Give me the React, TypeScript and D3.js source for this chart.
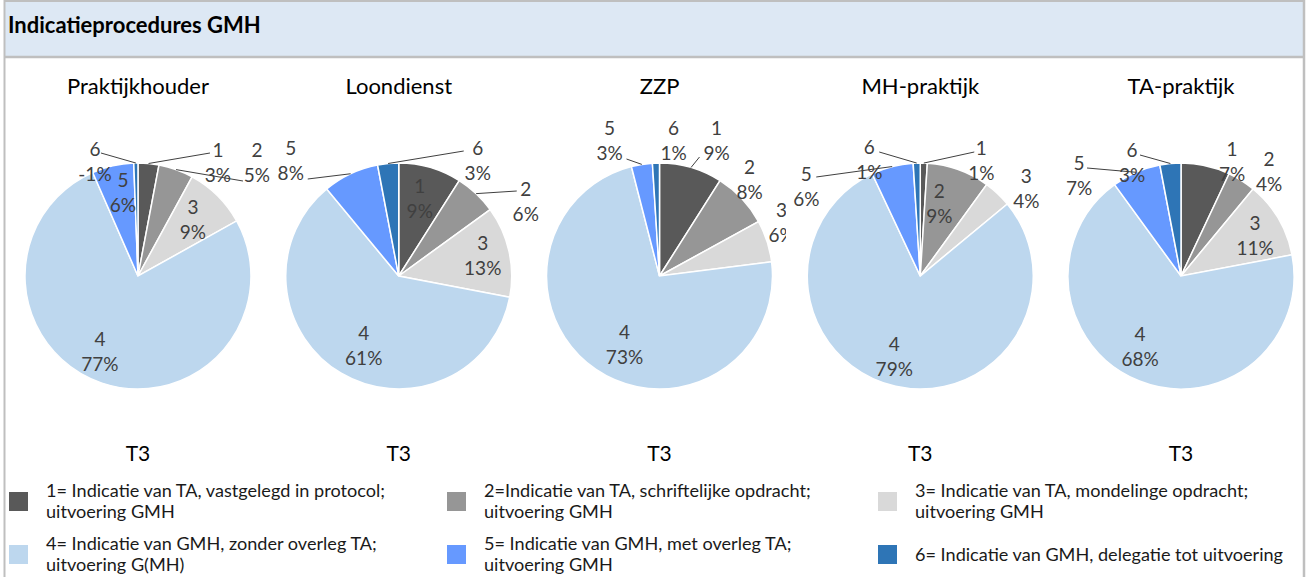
import React from "react";
import * as d3 from "d3";

const chartNames = ["Praktijkhouder", "Loondienst", "ZZP", "MH-praktijk", "TA-praktijk"];
const categories = ["1", "2", "3", "4", "5", "6"];
const praktijkhouder = [3, 5, 9, 77, 6, -0.6];
const loondienst = [9, 6, 13, 61, 8, 3];
const zzp = [9, 8, 6, 73, 3, 1];
const mhPraktijk = [1, 9, 4, 79, 6, 1];
const taPraktijk = [7, 4, 11, 68, 7, 3];
const seriesValues = [praktijkhouder, loondienst, zzp, mhPraktijk, taPraktijk];
const periodLabel = "T3";
const title = "Indicatieprocedures GMH";
const legendLines = [
  ["1= Indicatie van TA, vastgelegd in protocol;", "uitvoering GMH"],
  ["2=Indicatie van TA, schriftelijke opdracht;", "uitvoering GMH"],
  ["3= Indicatie van TA, mondelinge opdracht;", "uitvoering GMH"],
  ["4= Indicatie van GMH, zonder overleg TA;", "uitvoering G(MH)"],
  ["5= Indicatie van GMH, met overleg TA;", "uitvoering GMH"],
  ["6= Indicatie van GMH, delegatie tot uitvoering"],
];

// ---- styling / layout ----
const W = 1306;
const H = 577;
const colors = ["#595959", "#969696", "#d9d9d9", "#bdd7ee", "#6699ff", "#2e75b6"];
const FONT = "Lato, 'Open Sans', sans-serif";
const R = 113;
const CY = 276;

type LL = { dx: number; dy: number; lead?: [number, number] };
const labelLayouts: LL[][] = [
  [
    { dx: 80, dy: -114.5, lead: [-8, -8.5] },
    { dx: 119, dy: -114.5, lead: [-14, 19.5] },
    { dx: 55, dy: -57.5 },
    { dx: -38, dy: 74.5 },
    { dx: -15, dy: -84.5 },
    { dx: -43, dy: -115.5, lead: [6, -7.5] },
  ],
  [
    { dx: 21, dy: -78 },
    { dx: 127, dy: -75.5, lead: [-9, -9.5] },
    { dx: 84, dy: -21.5 },
    { dx: -35, dy: 68.5 },
    { dx: -108, dy: -116.5, lead: [17, 19.5] },
    { dx: 79, dy: -116.5, lead: [-14, -8.5] },
  ],
  [
    { dx: 57, dy: -136.5, lead: [-17, 17.5] },
    { dx: 90, dy: -97.5 },
    { dx: 122, dy: -54.5 },
    { dx: -35, dy: 68 },
    { dx: -50, dy: -136.5, lead: [17, 19.5] },
    { dx: 14, dy: -136.5 },
  ],
  [
    { dx: 61, dy: -116.5, lead: [-7, -7.5] },
    { dx: 19, dy: -73.5 },
    { dx: 106, dy: -88.5 },
    { dx: -26, dy: 79.5 },
    { dx: -114, dy: -90.5, lead: [10, -8.5] },
    { dx: -51, dy: -117, lead: [10, -7] },
  ],
  [
    { dx: 51, dy: -115.5 },
    { dx: 88, dy: -105.5 },
    { dx: 74, dy: -41 },
    { dx: -41, dy: 70 },
    { dx: -102, dy: -101, lead: [8, -7] },
    { dx: -49, dy: -114.5, lead: [8, -6.5] },
  ],
];
const clipRight = [300, 545, 786, 1060, 1303];

const legendCols = [9, 447, 878];
const legendRows = [492, 545];

export default function App() {
  const band = d3.scaleBand<string>().domain(chartNames).range([7.6, 1311.4]).paddingInner(0).paddingOuter(0);
  const pie = d3
    .pie<number>()
    .sort(null)
    .value((d) => Math.abs(d))
    .startAngle(0)
    .endAngle(2 * Math.PI);
  const arc = d3.arc<d3.PieArcDatum<number>>().innerRadius(0).outerRadius(R);
  const edgeArc = d3.arc<d3.PieArcDatum<number>>().innerRadius(R).outerRadius(R);

  return (
    <svg width={W} height={H} style={{ position: "absolute", left: 0, top: 0, display: "block", background: "#fff" }}>
      <defs>
        {chartNames.map((n, i) => {
          const left = i === 0 ? 5 : band(n)! - 30;
          return (
            <clipPath id={`clip${i}`} key={n}>
              <rect x={left} y={58} width={clipRight[i] - left} height={380} />
            </clipPath>
          );
        })}
      </defs>
      {/* frame */}
      <rect x={4} y={1} width={1299.5} height={56} fill="#dde8f4" />
      <line x1={4} y1={1} x2={1304} y2={1} stroke="#bfbfbf" strokeWidth={2} />
      <line x1={4} y1={57} x2={1304} y2={57} stroke="#bfbfbf" strokeWidth={2.5} />
      <line x1={4.5} y1={0} x2={4.5} y2={H} stroke="#bfbfbf" strokeWidth={2} />
      <line x1={1304} y1={0} x2={1304} y2={H} stroke="#bfbfbf" strokeWidth={2.5} />
      <text x={8} y={24} fontFamily={FONT} fontWeight="bold" fontSize={22} fill="#000" dominantBaseline="central">
        {title}
      </text>

      {chartNames.map((name, ci) => {
        const cx = band(name)! + band.bandwidth() / 2;
        const arcs = pie(seriesValues[ci]);
        return (
          <g key={name}>
            <text x={cx} y={85} textAnchor="middle" dominantBaseline="central" fontFamily={FONT} fontSize={22} fill="#000">
              {name}
            </text>
            <g transform={`translate(${cx},${CY})`}>
              {arcs.map((a, si) => (
                <path key={si} d={arc(a)!} fill={colors[si]} stroke="#fff" strokeWidth={1.5} />
              ))}
            </g>
            <g clipPath={`url(#clip${ci})`}>
              {arcs.map((a, si) => {
                const L = labelLayouts[ci][si];
                const lx = cx + L.dx;
                const ly = CY + L.dy;
                const [ex, ey] = edgeArc.centroid(a);
                return (
                  <g key={si}>
                    {L.lead && (
                      <line
                        x1={lx + L.lead[0]}
                        y1={ly + L.lead[1]}
                        x2={cx + ex}
                        y2={CY + ey}
                        stroke="#404040"
                        strokeWidth={1}
                      />
                    )}
                    <text x={lx} y={ly - 12.5} textAnchor="middle" dominantBaseline="central" fontFamily={FONT} fontSize={19} fill="#404040">
                      {categories[si]}
                    </text>
                    <text x={lx} y={ly + 12.5} textAnchor="middle" dominantBaseline="central" fontFamily={FONT} fontSize={19} fill="#404040">
                      {`${Math.round(a.data)}%`}
                    </text>
                  </g>
                );
              })}
            </g>
            <text x={cx} y={452} textAnchor="middle" dominantBaseline="central" fontFamily={FONT} fontSize={21} fill="#000">
              {periodLabel}
            </text>
          </g>
        );
      })}

      {legendLines.map((lines, i) => {
        const col = i % 3;
        const row = Math.floor(i / 3);
        const sx = legendCols[col];
        const sy = legendRows[row];
        const tx = sx + 37;
        return (
          <g key={i}>
            <rect x={sx} y={sy} width={19} height={19} fill={colors[i]} />
            {lines.length === 2 ? (
              <>
                <text x={tx} y={sy - 2} dominantBaseline="central" fontFamily={FONT} fontSize={18.1} fill="#1a1a1a">
                  {lines[0]}
                </text>
                <text x={tx} y={sy + 19} dominantBaseline="central" fontFamily={FONT} fontSize={18.1} fill="#1a1a1a">
                  {lines[1]}
                </text>
              </>
            ) : (
              <text x={tx} y={sy + 9} dominantBaseline="central" fontFamily={FONT} fontSize={18.1} fill="#1a1a1a">
                {lines[0]}
              </text>
            )}
          </g>
        );
      })}
    </svg>
  );
}
